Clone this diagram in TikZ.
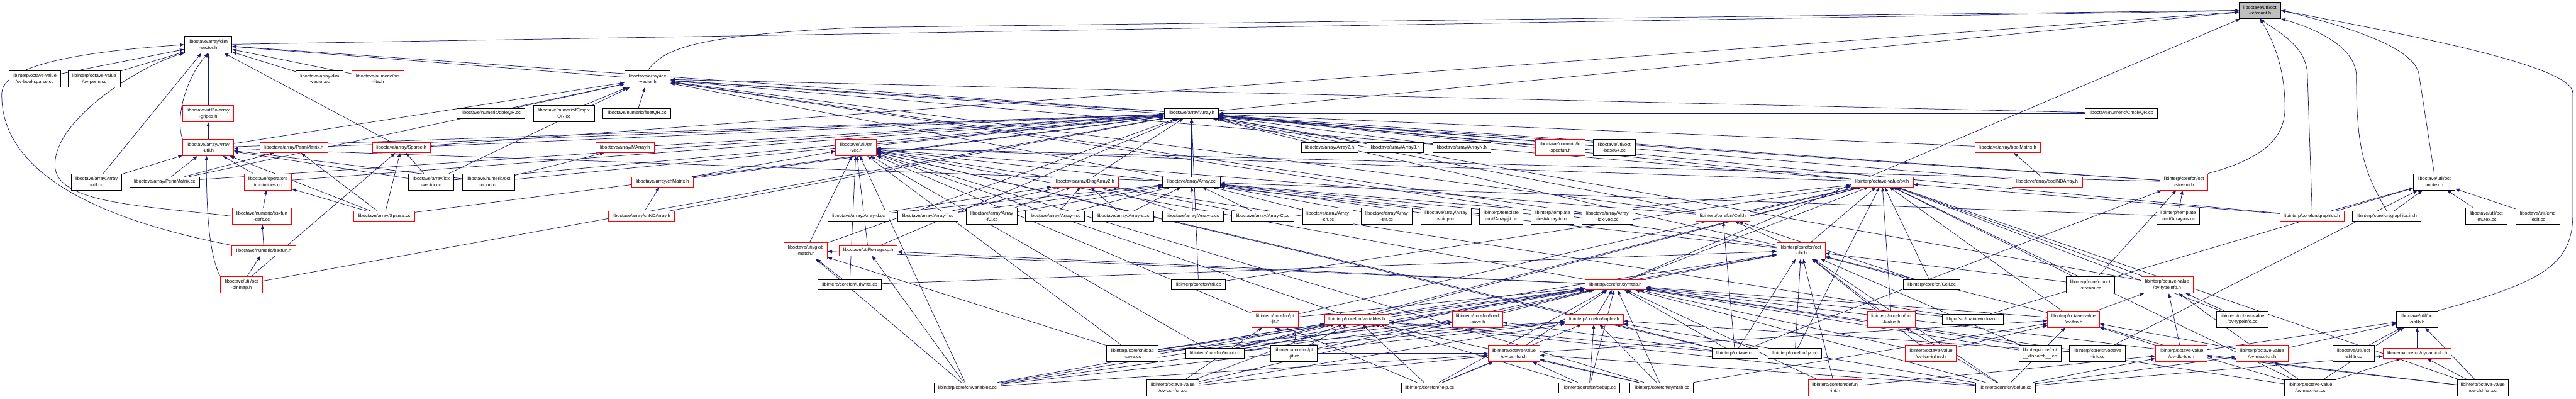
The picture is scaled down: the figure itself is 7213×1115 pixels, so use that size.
\documentclass[tikz,border=0pt]{standalone}
\usepackage{fontspec}
\setmainfont{Liberation Sans}
\usetikzlibrary{arrows.meta}
\pgfdeclarelayer{edgelayer}
\pgfsetlayers{edgelayer,main}
\definecolor{navyc}{RGB}{25,25,112}
\definecolor{graybox}{RGB}{191,191,191}
\definecolor{redc}{RGB}{255,0,0}
\tikzset{
 box/.style={rectangle, draw, line width=1.5pt, fill=white, inner sep=0pt, align=center, font=\fontsize{13}{17}\selectfont, minimum height=28pt},
 bk/.style={box, draw=black},
 rd/.style={box, draw=redc},
 two/.style={minimum height=46pt},
 edge/.style={draw=navyc, line width=1.3pt, -{Triangle[length=12pt,width=9pt]}},
}
\begin{document}
\begin{tikzpicture}[x=1pt,y=-1pt]
\useasboundingbox (0,0) rectangle (7213,1115);
% rank 0-3
\node[bk,two,fill=graybox,minimum width=117pt] (refc) at (6328,29) {liboctave/util/oct\\-refcount.h};
\node[bk,two,minimum width=133pt] (dimv) at (583,125) {liboctave/array/dim\\-vector.h};
\node[bk,two,minimum width=144pt] (ovbs) at (97,221) {libinterp/octave-value\\/ov-bool-sparse.cc};
\node[bk,two,minimum width=145pt] (ovperm) at (264,221) {libinterp/octave-value\\/ov-perm.cc};
\node[bk,two,minimum width=132pt] (dimvcc) at (895,221) {liboctave/array/dim\\-vector.cc};
\node[rd,two,minimum width=146pt] (fftw) at (1058,221) {liboctave/numeric/oct\\-fftw.h};
\node[bk,two,minimum width=127pt] (idxv) at (1813,221) {liboctave/array/idx\\-vector.h};
\node[rd,two,minimum width=142pt] (gripes) at (583,318) {liboctave/util/lo-array\\-gripes.h};
\node[bk,minimum width=190pt] (dbleQR) at (1375,317) {liboctave/numeric/dbleQR.cc};
\node[bk,two,minimum width=170pt] (fCmplxQR) at (1579,318) {liboctave/numeric/fCmplx\\QR.cc};
\node[bk,minimum width=190pt] (floatQR) at (1783,317) {liboctave/numeric/floatQR.cc};
\node[bk,minimum width=153pt] (Arrayh) at (3336,317) {liboctave/array/Array.h};
\node[bk,minimum width=203pt] (CmplxQR) at (5940,317) {liboctave/numeric/CmplxQR.cc};
% rank 4
\node[rd,two,minimum width=142pt] (autilh) at (583,413) {liboctave/array/Array\\-util.h};
\node[rd,minimum width=190pt] (permh) at (823,413) {liboctave/array/PermMatrix.h};
\node[rd,minimum width=163pt] (sparseh) at (1124,413) {liboctave/array/Sparse.h};
\node[rd,minimum width=164pt] (marray) at (1750,413) {liboctave/array/MArray.h};
\node[rd,two,minimum width=114pt] (strvec) at (2397,413) {liboctave/util/str\\-vec.h};
\node[bk,minimum width=159pt] (arr2) at (3723,413) {liboctave/array/Array2.h};
\node[bk,minimum width=159pt] (arr3) at (3907,413) {liboctave/array/Array3.h};
\node[bk,minimum width=162pt] (arrN) at (4093,413) {liboctave/array/ArrayN.h};
\node[rd,two,minimum width=139pt] (specfun) at (4368,413) {liboctave/numeric/lo\\-specfun.h};
\node[bk,two,minimum width=117pt] (base64) at (4520,413) {liboctave/util/oct\\-base64.cc};
\node[rd,minimum width=183pt] (boolmat) at (5622,413) {liboctave/array/boolMatrix.h};
% rank 5
\node[bk,two,minimum width=142pt] (autilcc) at (270,509) {liboctave/array/Array\\-util.cc};
\node[bk,minimum width=195pt] (permcc) at (461,509) {liboctave/array/PermMatrix.cc};
\node[rd,two,minimum width=132pt] (mxinl) at (750,509) {liboctave/operators\\/mx-inlines.cc};
\node[bk,two,minimum width=128pt] (idxvcc) at (1207,509) {liboctave/array/idx\\-vector.cc};
\node[bk,two,minimum width=147pt] (octnorm) at (1368,509) {liboctave/numeric/oct\\-norm.cc};
\node[rd,minimum width=172pt] (chmat) at (1855,509) {liboctave/array/chMatrix.h};
\node[rd,minimum width=186pt] (diag2) at (3038,509) {liboctave/array/DiagArray2.h};
\node[bk,minimum width=161pt] (arraycc) at (3336,509) {liboctave/array/Array.cc};
\node[rd,minimum width=174pt] (ovh) at (5270,509) {libinterp/octave-value/ov.h};
\node[rd,minimum width=197pt] (boolnd) at (5732,509) {liboctave/array/boolNDArray.h};
\node[rd,two,minimum width=135pt] (ostreamh) at (6115,509) {libinterp/corefcn/oct\\-stream.h};
\node[bk,two,minimum width=116pt] (mutexh) at (6816,509) {liboctave/util/oct\\-mutex.h};
% rank 6
\node[rd,two,minimum width=166pt] (bsxdefs) at (733,605) {liboctave/numeric/bsxfun\\-defs.cc};
\node[rd,minimum width=171pt] (sparsecc) at (1076,605) {liboctave/array/Sparse.cc};
\node[rd,minimum width=186pt] (chnd) at (1796,605) {liboctave/array/chNDArray.h};
\node[bk,minimum width=171pt] (arrd) at (2404,605) {liboctave/array/Array-d.cc};
\node[bk,minimum width=168pt] (arrf) at (2598,605) {liboctave/array/Array-f.cc};
\node[bk,two,minimum width=142pt] (arrfC) at (2777,605) {liboctave/array/Array\\-fC.cc};
\node[bk,minimum width=166pt] (arri) at (2954,605) {liboctave/array/Array-i.cc};
\node[bk,minimum width=171pt] (arrs) at (3145,605) {liboctave/array/Array-s.cc};
\node[bk,minimum width=171pt] (arrb) at (3340,605) {liboctave/array/Array-b.cc};
\node[bk,minimum width=174pt] (arrC) at (3536,605) {liboctave/array/Array-C.cc};
\node[bk,two,minimum width=142pt] (arrch) at (3718,605) {liboctave/array/Array\\-ch.cc};
\node[bk,two,minimum width=142pt] (arrstr) at (3883,605) {liboctave/array/Array\\-str.cc};
\node[bk,two,minimum width=142pt] (arrvoidp) at (4049,605) {liboctave/array/Array\\-voidp.cc};
\node[bk,two,minimum width=121pt] (arrjit) at (4203,605) {libinterp/template\\-inst/Array-jit.cc};
\node[bk,two,minimum width=120pt] (arrtc) at (4347,605) {libinterp/template\\-inst/Array-tc.cc};
\node[bk,two,minimum width=143pt] (arridx) at (4501,605) {liboctave/array/Array\\-idx-vec.cc};
\node[rd,minimum width=151pt] (cellh) at (4824,605) {libinterp/corefcn/Cell.h};
\node[bk,two,minimum width=121pt] (arros) at (6099,605) {libinterp/template\\-inst/Array-os.cc};
\node[rd,minimum width=178pt] (graphh) at (6474,605) {libinterp/corefcn/graphics.h};
\node[bk,minimum width=191pt] (graphin) at (6683,605) {libinterp/corefcn/graphics.in.h};
\node[bk,two,minimum width=117pt] (mutexcc) at (6962,605) {liboctave/util/oct\\-mutex.cc};
\node[bk,two,minimum width=124pt] (cmdedit) at (7106,605) {liboctave/util/cmd\\-edit.cc};
% rank 7
\node[rd,minimum width=179pt] (bsxh) at (739,701) {liboctave/numeric/bsxfun.h};
\node[rd,two,minimum width=122pt] (globh) at (2256,701) {liboctave/util/glob\\-match.h};
\node[rd,minimum width=163pt] (regexph) at (2431,701) {liboctave/util/lo-regexp.h};
\node[rd,two,minimum width=135pt] (octobj) at (5043,701) {libinterp/corefcn/oct\\-obj.h};
% rank 8
\node[rd,two,minimum width=118pt] (binmap) at (676,797) {liboctave/util/oct\\-binmap.h};
\node[bk,minimum width=179pt] (urlwrite) at (2379,797) {libinterp/corefcn/urlwrite.cc};
\node[bk,minimum width=151pt] (tril) at (3356,797) {libinterp/corefcn/tril.cc};
\node[rd,minimum width=171pt] (symtabh) at (4523,797) {libinterp/corefcn/symtab.h};
\node[bk,minimum width=158pt] (cellcc) at (5409,797) {libinterp/corefcn/Cell.cc};
\node[bk,two,minimum width=135pt] (ostreamcc) at (5853,797) {libinterp/corefcn/oct\\-stream.cc};
\node[rd,two,minimum width=145pt] (typeinfoh) at (6068,797) {libinterp/octave-value\\/ov-typeinfo.h};
% rank 9
\node[rd,two,minimum width=129pt] (ptjith) at (3570,893) {libinterp/corefcn/pt\\-jit.h};
\node[rd,minimum width=180pt] (varh) at (3799,893) {libinterp/corefcn/variables.h};
\node[rd,two,minimum width=142pt] (loadsaveh) at (4137,893) {libinterp/corefcn/load\\-save.h};
\node[rd,minimum width=163pt] (toplevh) at (4464,893) {libinterp/corefcn/toplev.h};
\node[rd,two,minimum width=135pt] (lvalueh) at (5296,893) {libinterp/corefcn/oct\\-lvalue.h};
\node[bk,minimum width=171pt] (mainwin) at (5524,893) {libgui/src/main-window.cc};
\node[rd,two,minimum width=145pt] (ovfcnh) at (5806,893) {libinterp/octave-value\\/ov-fcn.h};
\node[bk,two,minimum width=144pt] (typeinfocc) at (6279,893) {libinterp/octave-value\\/ov-typeinfo.cc};
\node[bk,two,minimum width=116pt] (shlibh) at (6768,893) {liboctave/util/oct\\-shlib.h};
% rank 10
\node[bk,two,minimum width=144pt] (loadsavecc) at (3171,989) {libinterp/corefcn/load\\-save.cc};
\node[bk,minimum width=165pt] (inputcc) at (3402,989) {libinterp/corefcn/input.cc};
\node[bk,two,minimum width=130pt] (ptjitcc) at (3623,989) {libinterp/corefcn/pt\\-jit.cc};
\node[rd,two,minimum width=144pt] (usrfcnh) at (4239,989) {libinterp/octave-value\\/ov-usr-fcn.h};
\node[bk,minimum width=128pt] (octavecc) at (4858,989) {libinterp/octave.cc};
\node[bk,minimum width=150pt] (qzcc) at (5026,989) {libinterp/corefcn/qz.cc};
\node[rd,two,minimum width=144pt] (fcninline) at (5406,989) {libinterp/octave-value\\/ov-fcn-inline.h};
\node[bk,two,minimum width=118pt] (dispatch) at (5712,989) {libinterp/corefcn/\\\_\_dispatch\_\_.cc};
\node[bk,two,minimum width=157pt] (octlink) at (5873,989) {libinterp/corefcn/octave\\-link.cc};
\node[rd,two,minimum width=145pt] (dldfcnh) at (6108,989) {libinterp/octave-value\\/ov-dld-fcn.h};
\node[rd,two,minimum width=145pt] (mexfcnh) at (6334,989) {libinterp/octave-value\\/ov-mex-fcn.h};
\node[bk,two,minimum width=116pt] (shlibcc) at (6590,989) {liboctave/util/oct\\-shlib.cc};
\node[rd,minimum width=190pt] (dynld) at (6768,989) {libinterp/corefcn/dynamic-ld.h};
% rank 11
\node[bk,minimum width=188pt] (varcc) at (2709,1085) {libinterp/corefcn/variables.cc};
\node[bk,two,minimum width=145pt] (usrfcncc) at (3284,1085) {libinterp/octave-value\\/ov-usr-fcn.cc};
\node[bk,minimum width=159pt] (helpcc) at (4003,1085) {libinterp/corefcn/help.cc};
\node[bk,minimum width=170pt] (debugcc) at (4450,1085) {libinterp/corefcn/debug.cc};
\node[bk,minimum width=178pt] (symtabcc) at (4653,1085) {libinterp/corefcn/symtab.cc};
\node[rd,two,minimum width=150pt] (defunint) at (5138,1085) {libinterp/corefcn/defun\\-int.h};
\node[bk,minimum width=167pt] (defuncc) at (5616,1085) {libinterp/corefcn/defun.cc};
\node[bk,two,minimum width=144pt] (mexfcncc) at (6469,1085) {libinterp/octave-value\\/ov-mex-fcn.cc};
\node[bk,two,minimum width=144pt] (dldfcncc) at (6952,1085) {libinterp/octave-value\\/ov-dld-fcn.cc};

\begin{pgfonlayer}{edgelayer}
% curved edges
\draw[edge] (shlibh.north east) .. controls (7120,790) and (7204,740) .. (7204,600) -- (7204,260) .. controls (7204,180) and (6700,90) .. (refc.east);
\draw[edge] (mutexh.north) -- (6774,214) .. controls (6770,140) and (6600,80) .. (refc.east);
\draw[edge] (graphin.north) .. controls (6620,480) and (6598,420) .. (6598,214) .. controls (6598,120) and (6450,70) .. (refc.south east);
\draw[edge] (graphh.north) -- (6461,214) .. controls (6461,130) and (6380,90) .. (refc.south);
\draw[edge] (ostreamh.north east) .. controls (6350,440) and (6398,380) .. (6398,300) .. controls (6398,200) and (6370,120) .. (refc.south);
\draw[edge] (idxv.north) .. controls (1860,140) and (1920,100) .. (2400,77) -- (refc.west);
\draw[edge] (bsxh.north west) .. controls (200,600) and (0,450) .. (5,260) .. controls (10,170) and (300,140) .. (dimv.west);
\draw[edge] (bsxdefs.west) .. controls (400,575) and (150,570) .. (154,460) .. controls (154,330) and (400,180) .. (dimv.south west);
\draw[edge] (autilh.north west) .. controls (490,330) and (520,220) .. (dimv.south);
\draw[edge] (binmap.north west) .. controls (580,700) and (578,550) .. (578,436);
\draw[edge] (ptjitcc.north) .. controls (3640,900) and (3600,930) .. (ptjith.south);
\foreach \a/\b in {
dimv/refc, sparseh/refc, Arrayh/refc, symtabh/refc,
ovbs/dimv, ovperm/dimv, dimvcc/dimv, fftw/dimv, gripes/dimv, autilcc/dimv, sparseh/dimv, Arrayh/dimv, idxv/dimv,
autilh/gripes,
idxvcc/idxv, dbleQR/idxv, fCmplxQR/idxv, floatQR/idxv, Arrayh/idxv, CmplxQR/idxv, arraycc/idxv, ovh/idxv, octobj/idxv, cellh/idxv, ostreamh/idxv, permcc/idxv, autilh/idxv, arridx/idxv,
autilh/Arrayh, permh/Arrayh, sparseh/Arrayh, marray/Arrayh, strvec/Arrayh, arr2/Arrayh, arr3/Arrayh, arrN/Arrayh, specfun/Arrayh, base64/Arrayh, boolmat/Arrayh, diag2/Arrayh, arraycc/Arrayh, chmat/Arrayh, idxvcc/Arrayh, octnorm/Arrayh, mxinl/Arrayh, sparsecc/Arrayh, chnd/Arrayh, boolnd/Arrayh, globh/Arrayh, regexph/Arrayh, octobj/Arrayh, cellh/Arrayh, ovh/Arrayh, ostreamh/Arrayh, permcc/Arrayh, binmap/Arrayh, tril/Arrayh, typeinfoh/Arrayh, graphh/Arrayh, CmplxQR/Arrayh,
autilcc/autilh, permcc/autilh, mxinl/autilh, idxvcc/autilh, octnorm/autilh, arraycc/autilh, sparsecc/autilh,
permcc/permh, sparsecc/permh,
idxvcc/sparseh, sparsecc/sparseh, binmap/sparseh,
octnorm/marray,
chmat/strvec, ovh/strvec, ostreamh/strvec, cellh/strvec, globh/strvec, regexph/strvec, octobj/strvec, symtabh/strvec, varh/strvec, loadsavecc/strvec, inputcc/strvec, octavecc/strvec, varcc/strvec, helpcc/strvec, symtabcc/strvec, toplevh/strvec, urlwrite/strvec, mainwin/strvec,
bsxdefs/mxinl, sparsecc/mxinl,
chnd/chmat,
arrd/diag2, arrf/diag2, arrfC/diag2, arrC/diag2, arri/diag2, arrs/diag2, arrb/diag2,
arrd/arraycc, arrf/arraycc, arrfC/arraycc, arri/arraycc, arrs/arraycc, arrb/arraycc, arrC/arraycc, arrch/arraycc, arrstr/arraycc, arrvoidp/arraycc, arrjit/arraycc, arrtc/arraycc, arridx/arraycc, arros/arraycc,
boolnd/boolmat,
cellh/ovh, octobj/ovh, symtabh/ovh, typeinfoh/ovh, graphh/ovh, tril/ovh, ovfcnh/ovh, lvalueh/ovh, typeinfocc/ovh, arrtc/ovh, cellcc/ovh, ostreamcc/ovh, qzcc/ovh, varh/ovh, ptjith/ovh, mexfcncc/ovh, dldfcncc/ovh, inputcc/ovh,
arros/ostreamh, ostreamcc/ostreamh, octavecc/ostreamh,
graphh/mutexh, graphin/mutexh, mutexcc/mutexh, cmdedit/mutexh, octlink/mutexh, mainwin/mutexh,
bsxh/bsxdefs, binmap/bsxh,
octobj/cellh, octavecc/cellh, cellcc/cellh,
urlwrite/globh, varcc/globh, symtabh/globh, loadsavecc/globh,
varcc/regexph, symtabh/regexph,
symtabh/octobj, ovfcnh/octobj, lvalueh/octobj, cellcc/octobj, ostreamcc/octobj, octavecc/octobj, qzcc/octobj, defunint/octobj, defuncc/octobj, urlwrite/octobj, fcninline/octobj, dispatch/octobj, inputcc/octobj, loadsavecc/octobj,
varh/symtabh, loadsaveh/symtabh, toplevh/symtabh, ovfcnh/symtabh, mainwin/symtabh, loadsavecc/symtabh, inputcc/symtabh, ptjitcc/symtabh, usrfcnh/symtabh, octavecc/symtabh, fcninline/symtabh, dispatch/symtabh, octlink/symtabh, varcc/symtabh, usrfcncc/symtabh, helpcc/symtabh, debugcc/symtabh, symtabcc/symtabh, defunint/symtabh, defuncc/symtabh, mexfcncc/symtabh, dldfcncc/symtabh, ptjith/symtabh,
ovfcnh/typeinfoh, typeinfocc/typeinfoh, dldfcnh/typeinfoh, mexfcnh/typeinfoh,
usrfcncc/ptjith,
loadsavecc/varh, inputcc/varh, ptjitcc/varh, octavecc/varh, varcc/varh, usrfcncc/varh, helpcc/varh, debugcc/varh, symtabcc/varh, defuncc/varh,
loadsavecc/loadsaveh, varcc/loadsaveh, octavecc/loadsaveh,
loadsavecc/toplevh, inputcc/toplevh, octavecc/toplevh, octlink/toplevh, varcc/toplevh, usrfcncc/toplevh, helpcc/toplevh, debugcc/toplevh, symtabcc/toplevh, defuncc/toplevh,
defuncc/lvalueh,
usrfcnh/ovfcnh, fcninline/ovfcnh, dispatch/ovfcnh, dldfcnh/ovfcnh, mexfcnh/ovfcnh, defuncc/ovfcnh, symtabcc/ovfcnh, mexfcncc/ovfcnh,
dldfcnh/shlibh, mexfcnh/shlibh, shlibcc/shlibh, dynld/shlibh, mexfcncc/shlibh, dldfcncc/shlibh,
ptjitcc/usrfcnh, varcc/usrfcnh, usrfcncc/usrfcnh, helpcc/usrfcnh, debugcc/usrfcnh, symtabcc/usrfcnh, defuncc/usrfcnh,
defunint/dldfcnh, dldfcncc/dldfcnh, defuncc/dldfcnh,
mexfcncc/mexfcnh, defuncc/mexfcnh,
mexfcncc/dynld, dldfcncc/dynld, defuncc/dynld}
  \draw[edge] (\a) -- (\b);
\end{pgfonlayer}
\end{tikzpicture}
\end{document}
